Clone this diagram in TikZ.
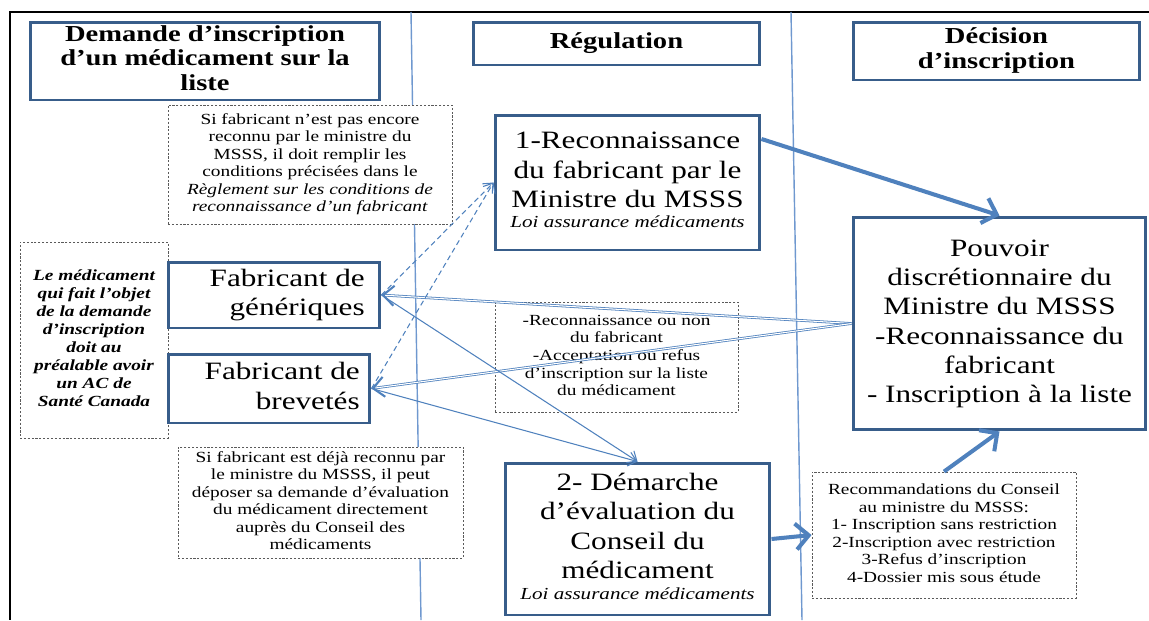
\documentclass[tikz,border=0pt]{standalone}
\usepackage{fontspec}
\setmainfont{Liberation Serif}
\usepackage{graphicx}
\usetikzlibrary{arrows.meta, positioning}
\definecolor{boxBlue}{HTML}{385D8A}
\definecolor{lineBlue}{HTML}{4F81BD}
\definecolor{laneBlue}{HTML}{6F98CF}
\definecolor{noteGray}{HTML}{5A5A5A}

% texte un peu elargi, comme dans l'original
\newcommand{\wide}[2][c]{\scalebox{1.25}[1]{\begin{tabular}{@{}#1@{}}#2\end{tabular}}}

\tikzset{
  titlebox/.style={draw=boxBlue, line width=1.7pt, fill=white, inner sep=0pt,
    font=\fontsize{13}{14.2}\selectfont\bfseries},
  mainbox/.style={draw=boxBlue, line width=1.7pt, fill=white, inner sep=0pt,
    font=\fontsize{14.2}{16.7}\selectfont},
  notebox/.style={draw=noteGray, dash pattern=on 1.2pt off 1pt, line width=0.5pt,
    fill=white, inner sep=0pt, font=\fontsize{8.8}{10}\selectfont},
  bigarrow/.style={lineBlue, line width=2.3pt, -{Straight Barb[length=2.6mm,width=5.2mm]}},
  thinarrow/.style={lineBlue, line width=0.6pt, -{Straight Barb[length=1.6mm,width=2.8mm]}},
  dasharrow/.style={thinarrow, dash pattern=on 3pt off 2pt},
  backarrow/.style={lineBlue, double=white, double distance=0.6pt, line width=0.45pt,
    -{Straight Barb[length=2.2mm,width=4mm,line width=1.2pt]}},
  lane/.style={laneBlue, line width=0.8pt}
}

\begin{document}
\begin{tikzpicture}[x=0.02cm, y=-0.02cm]
  \useasboundingbox (0,0) rectangle (1149,620);
  % cadre
  \draw[black, line width=0.8pt] (1149,12) -- (10,12) -- (10,620);
  % couloirs
  \draw[lane] (411,12) -- (421,620);
  \draw[lane] (791,12) -- (802,620);

  % titres
  \node[titlebox, minimum width=7cm, minimum height=1.56cm] (demande) at (205,61)
    {\wide{Demande d’inscription\\d’un médicament sur la\\liste}};
  \node[titlebox, minimum width=5.74cm, minimum height=0.86cm] (regul) at (616.5,43.5)
    {\wide{Régulation}};
  \node[titlebox, minimum width=5.74cm, minimum height=1.16cm] (decision) at (996.5,51)
    {\wide{Décision\\d’inscription}};

  % notes
  \node[notebox, minimum width=5.68cm, minimum height=2.38cm] (noteA) at (310,164.5)
    {\wide{Si fabricant n’est pas encore\\reconnu par le ministre du\\MSSS, il  doit remplir les\\conditions  précisées dans le\\\textit{Règlement sur les conditions de}\\\textit{reconnaissance d’un fabricant}}};
  \node[notebox, minimum width=2.96cm, minimum height=3.92cm,
    font=\fontsize{8.8}{10.2}\selectfont\bfseries\itshape] (ac) at (94,340)
    {\wide{Le médicament\\qui fait l’objet\\de la demande\\d’inscription\\doit au\\préalable avoir\\un AC de\\Santé Canada}};
  \node[notebox, minimum width=4.86cm, minimum height=2.2cm] (noteB) at (616.5,357)
    {\wide{-Reconnaissance ou non\\du fabricant\\-Acceptation ou refus\\d’inscription sur  la liste\\du médicament}};
  \node[notebox, minimum width=5.7cm, minimum height=2.22cm] (noteC) at (320.5,502.5)
    {\wide{Si fabricant est déjà reconnu par\\le ministre du MSSS, il peut\\déposer sa demande d’évaluation\\du médicament directement\\auprès du Conseil des\\médicaments}};
  \node[notebox, minimum width=5.28cm, minimum height=2.52cm] (recom) at (944,535)
    {\wide{Recommandations du Conseil\\au ministre du MSSS:\\1- Inscription  sans restriction\\2-Inscription avec restriction\\3-Refus d’inscription\\4-Dossier mis sous étude}};

  % boites principales
  \node[mainbox, minimum width=5.3cm, minimum height=2.7cm] (reco) at (627.5,182.5)
    {\wide{1-Reconnaissance\\du fabricant par le\\Ministre du MSSS\\[-5pt]{\fontsize{9.6}{11}\selectfont\itshape Loi assurance médicaments}}};
  \node[mainbox, minimum width=4.24cm, minimum height=1.32cm] (gen) at (274,295)
    {\hspace*{15pt}\wide[r]{Fabricant de\\génériques}};
  \node[mainbox, minimum width=4.04cm, minimum height=1.38cm] (brev) at (269,388.5)
    {\hspace*{15pt}\wide[r]{Fabricant de\\brevetés}};
  \node[mainbox, minimum width=5.86cm, minimum height=4.26cm] (pouvoir) at (999.5,323.5)
    {\wide{Pouvoir\\discrétionnaire du\\Ministre du MSSS\\-Reconnaissance du\\fabricant\\- Inscription à la liste}};
  \node[mainbox, minimum width=5.3cm, minimum height=3.04cm] (demarche) at (637.5,539)
    {\wide{2- Démarche\\d’évaluation du\\Conseil du\\médicament\\[-5pt]{\fontsize{9.6}{11}\selectfont\itshape Loi assurance médicaments}}};

  % fleches
  \draw[bigarrow] (reco.18) -- (pouvoir.north);
  \draw[bigarrow] (recom.north) -- (pouvoir.south);
  \draw[bigarrow] (demarche.east) -- (recom.west);
  \draw[backarrow] (pouvoir.west) -- (gen.east);
  \draw[backarrow] (pouvoir.west) -- (brev.east);
  \draw[dasharrow] (gen.east) -- (reco.west);
  \draw[dasharrow] (brev.east) -- (reco.west);
  \draw[thinarrow] (gen.east) -- (demarche.north);
  \draw[thinarrow] (brev.east) -- (demarche.north);
\end{tikzpicture}
\end{document}
